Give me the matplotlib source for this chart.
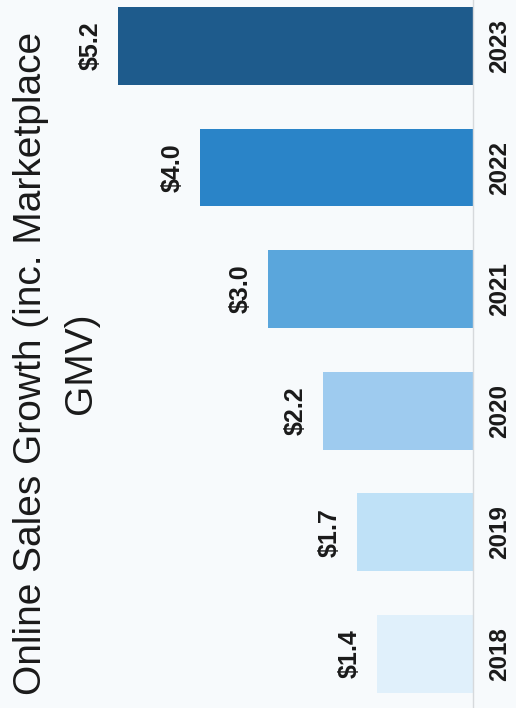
import matplotlib.pyplot as plt

years = ['2018', '2019', '2020', '2021', '2022', '2023']
sales = [1.4, 1.7, 2.2, 3.0, 4.0, 5.2]
colors = ['#e0f0fb', '#bfe1f7', '#9ecbef', '#5aa6dc', '#2a84c8', '#1e5b8c']
title_lines = ['Online Sales Growth (inc. Marketplace', 'GMV)']

plt.rcParams['font.family'] = ['Liberation Sans', 'DejaVu Sans']
bg = '#f7fafc'

fig = plt.figure(figsize=(5.16, 7.08), dpi=100, facecolor=bg)
# baseline sits on the right, bars grow to the left
ax = fig.add_axes([0, 0, 473 / 516, 1])
ax.set_facecolor(bg)

ys = list(range(len(years)))
ax.barh(ys, sales, height=0.64, color=colors)
ax.set_xlim(6.93, 0)
ax.set_ylim(-0.444, 5.378)

for y, v in zip(ys, sales):
    ax.annotate(f'${v:.1f}', (v, y), xytext=(-11, 0), textcoords='offset points',
                ha='right', va='center', rotation=90,
                fontsize=18, fontweight='bold', color='#1a1a1a')

ax.set_yticks(ys, years)
ax.yaxis.tick_right()
ax.tick_params(axis='y', length=0, pad=11, labelsize=17.5, labelrotation=90)
for lbl in ax.get_yticklabels():
    lbl.set_fontweight('bold')
    lbl.set_va('center')
    lbl.set_color('#1a1a1a')
ax.set_xticks([])

for s in ['top', 'left', 'bottom']:
    ax.spines[s].set_visible(False)
ax.spines['right'].set_color('#d6d9dc')
ax.spines['right'].set_linewidth(1)

# two-line title, rotated, each line centred on the same point
for xpix, line in zip([31, 81], title_lines):
    fig.text(xpix / 516, 0.487, line, rotation=90, ha='center', va='center',
             fontsize=28, color='#1a1a1a')

fig.savefig('out.png', dpi=100, facecolor=bg)
